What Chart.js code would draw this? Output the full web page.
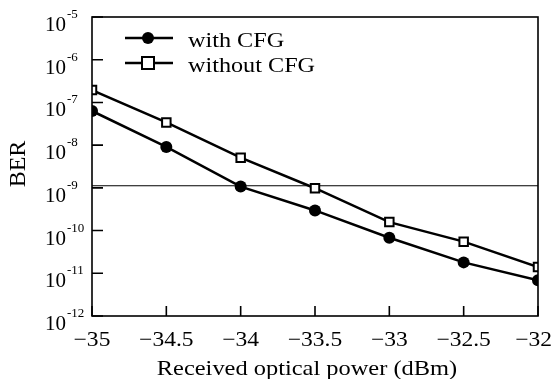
<!DOCTYPE html>
<html>
<head>
<meta charset="utf-8">
<script src="https://cdn.jsdelivr.net/npm/chart.js@4.4.0/dist/chart.umd.min.js"></script>
<style>
  html, body { margin: 0; padding: 0; background: #fff; }
  #wrap { width: 554px; height: 379px; }
</style>
</head>
<body>
<div id="wrap"><canvas id="berChart" width="554" height="379"></canvas></div>
<script>
// ---- data ----
const power = [-35, -34.5, -34, -33.5, -33, -32.5, -32];
const withCFG = [6.3e-8, 9.1e-9, 1.07e-9, 2.96e-10, 6.8e-11, 1.8e-11, 6.9e-12];
const withoutCFG = [1.95e-7, 3.4e-8, 5.1e-9, 9.8e-10, 1.58e-10, 5.5e-11, 1.4e-11];
const thresholdBER = 1.12e-9;
const yExponents = [-12, -11, -10, -9, -8, -7, -6, -5];
const seriesNames = ['with CFG', 'without CFG'];
const xTitle = 'Received optical power (dBm)';
const yTitle = 'BER';

const serif = '"Liberation Serif", "DejaVu Serif", serif';

function pts(ys) {
  return power.map((x, i) => ({ x: x, y: ys[i] }));
}

// text a bit wider than the plain font, like the original figure
function wideText(ctx, text, x, y, sx, align, maxRight) {
  const w = ctx.measureText(text).width * sx;
  let left = x;
  if (align === 'center') left = x - w / 2;
  else if (align === 'right') left = x - w;
  if (maxRight && left + w > maxRight) left = maxRight - w;
  ctx.save();
  ctx.translate(left, y);
  ctx.scale(sx, 1);
  ctx.textAlign = 'left';
  ctx.fillText(text, 0, 0);
  ctx.restore();
}

// frame, inward ticks, axis labels, legend inside plot
const decorations = {
  id: 'decorations',
  afterDraw(chart) {
    const ctx = chart.ctx;
    const a = chart.chartArea;
    const xs = chart.scales.x, ys = chart.scales.y;
    ctx.save();
    ctx.strokeStyle = '#000';
    ctx.lineWidth = 1.6;
    ctx.strokeRect(a.left, a.top, a.right - a.left, a.bottom - a.top);

    // ticks
    ctx.beginPath();
    power.forEach(v => {
      const px = xs.getPixelForValue(v);
      ctx.moveTo(px, a.bottom);
      ctx.lineTo(px, a.bottom - 10);
    });
    yExponents.forEach(e => {
      const py = ys.getPixelForValue(Math.pow(10, e));
      ctx.moveTo(a.left, py);
      ctx.lineTo(a.left + 11, py);
    });
    ctx.stroke();

    ctx.fillStyle = '#000';
    ctx.textBaseline = 'alphabetic';

    // y tick labels: 10 with superscript exponent
    yExponents.forEach(e => {
      const py = ys.getPixelForValue(Math.pow(10, e));
      ctx.font = '21px ' + serif;
      ctx.textAlign = 'right';
      ctx.fillText('10', 66, py + 14);
      ctx.font = '13px ' + serif;
      ctx.textAlign = 'left';
      ctx.fillText('-' + Math.abs(e), 67, py + 1);
    });

    // x tick labels
    ctx.font = '21px ' + serif;
    power.forEach(v => {
      const px = xs.getPixelForValue(v);
      wideText(ctx, String(v).replace('-', '\u2212'), px, 346, 1.12, 'center', 552);
    });

    // axis titles
    ctx.font = '22px ' + serif;
    wideText(ctx, xTitle, 307, 375, 1.11, 'center');
    ctx.save();
    ctx.translate(25, 164);
    ctx.rotate(-Math.PI / 2);
    ctx.font = '24px ' + serif;
    ctx.textAlign = 'center';
    ctx.fillText(yTitle, 0, 0);
    ctx.restore();

    // legend
    const rows = [
      { y: 38, base: 46.5, ds: chart.data.datasets[0] },
      { y: 63, base: 71.5, ds: chart.data.datasets[1] }
    ];
    rows.forEach(r => {
      ctx.strokeStyle = '#000';
      ctx.lineWidth = 2.5;
      ctx.beginPath();
      ctx.moveTo(125, r.y);
      ctx.lineTo(173, r.y);
      ctx.stroke();
      if (r.ds.pointStyle === 'circle') {
        ctx.fillStyle = '#000';
        ctx.beginPath();
        ctx.arc(148, r.y, 6, 0, Math.PI * 2);
        ctx.fill();
      } else {
        ctx.fillStyle = '#fff';
        ctx.lineWidth = 2;
        ctx.fillRect(142, r.y - 6, 12, 12);
        ctx.strokeRect(142, r.y - 6, 12, 12);
      }
      ctx.fillStyle = '#000';
      ctx.font = '20px ' + serif;
      wideText(ctx, r.ds.label, 188, r.base, 1.21, 'left');
    });
    ctx.restore();
  }
};

const ctx = document.getElementById('berChart').getContext('2d');
new Chart(ctx, {
  type: 'line',
  data: {
    datasets: [
      {
        label: seriesNames[0],
        data: pts(withCFG),
        borderColor: '#000',
        backgroundColor: '#000',
        borderWidth: 2.5,
        pointStyle: 'circle',
        pointRadius: 6,
        pointBorderWidth: 0,
        pointBackgroundColor: '#000'
      },
      {
        label: seriesNames[1],
        data: pts(withoutCFG),
        borderColor: '#000',
        backgroundColor: '#fff',
        borderWidth: 2.5,
        pointStyle: 'rect',
        pointRadius: 6,
        pointBorderWidth: 2,
        pointBorderColor: '#000',
        pointBackgroundColor: '#fff'
      },
      {
        label: 'threshold',
        data: [{ x: power[0], y: thresholdBER }, { x: power[power.length - 1], y: thresholdBER }],
        borderColor: '#000',
        borderWidth: 1.2,
        pointRadius: 0
      }
    ]
  },
  options: {
    responsive: false,
    animation: false,
    layout: { padding: { left: 0, right: 16, top: 17, bottom: 0 } },
    plugins: {
      legend: { display: false },
      tooltip: { enabled: false }
    },
    scales: {
      x: {
        type: 'linear',
        min: -35,
        max: -32,
        grid: { display: false, drawTicks: false },
        border: { display: false },
        ticks: { display: false },
        afterFit: s => { s.height = 63; }
      },
      y: {
        type: 'logarithmic',
        min: 1e-12,
        max: 1e-5,
        grid: { display: false, drawTicks: false },
        border: { display: false },
        ticks: { display: false },
        afterFit: s => { s.width = 92; }
      }
    }
  },
  plugins: [decorations]
});
</script>
</body>
</html>
